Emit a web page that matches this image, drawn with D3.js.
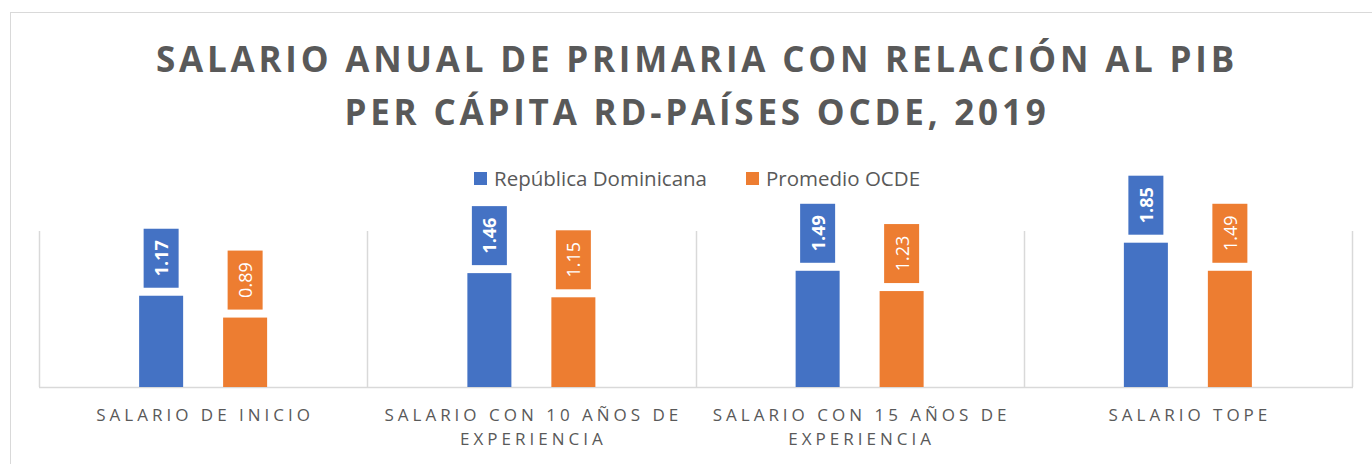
<!DOCTYPE html>
<html>
<head>
<meta charset="utf-8">
<script src="https://cdn.jsdelivr.net/npm/d3@7.9.0/dist/d3.min.js"></script>
<style>
  body { margin: 0; background: #fff; }
  svg { display: block; font-family: 'Open Sans', sans-serif; }
</style>
</head>
<body>
<svg id="chart" width="1372" height="464"></svg>
<script>
// data
const categories = [
  ['SALARIO DE INICIO'],
  ['SALARIO CON 10 AÑOS DE', 'EXPERIENCIA'],
  ['SALARIO CON 15 AÑOS DE', 'EXPERIENCIA'],
  ['SALARIO TOPE']
];
const series = ['República Dominicana', 'Promedio OCDE'];
const rdValues = [1.17, 1.46, 1.49, 1.85];
const ocdeValues = [0.89, 1.15, 1.23, 1.49];
const titleLines = ['SALARIO ANUAL DE PRIMARIA CON RELACIÓN AL PIB', 'PER CÁPITA RD-PAÍSES OCDE, 2019'];

const colors = ['#4472C4', '#ED7D31'];
const grey = '#595959';

const svg = d3.select('#chart');

// outer frame
svg.append('rect')
  .attr('x', 10.5).attr('y', 12.5)
  .attr('width', 1420).attr('height', 500)
  .attr('fill', 'none').attr('stroke', '#d9d9d9');

// title
const title = svg.append('text')
  .attr('text-anchor', 'middle')
  .attr('fill', grey)
  .attr('font-size', 35)
  .attr('font-weight', 700)
  .attr('letter-spacing', 3.8);
titleLines.forEach((t, i) => {
  title.append('tspan').attr('x', 697).attr('y', 72 + i * 53).text(t);
});

// legend
const legend = svg.append('g');
const legendX = [474, 746];
series.forEach((s, i) => {
  legend.append('rect')
    .attr('x', legendX[i]).attr('y', 172)
    .attr('width', 13).attr('height', 13)
    .attr('fill', colors[i]);
  legend.append('text')
    .attr('x', legendX[i] + 20).attr('y', 186)
    .attr('font-size', 20.5).attr('fill', grey)
    .text(s);
});

// scales
const x0 = d3.scaleBand()
  .domain(d3.range(categories.length))
  .range([39, 1352]);
const bw = x0.bandwidth();
const x1 = d3.scaleBand()
  .domain(series)
  .range([bw / 2 - 64, bw / 2 + 64])
  .paddingInner(0.476);
const y = d3.scaleLinear().domain([0, 2]).range([387, 231]);

// gridlines at category boundaries
const bounds = d3.range(categories.length + 1).map(i => i === categories.length ? x0.range()[1] : x0(i));
svg.append('g').selectAll('line')
  .data(bounds)
  .join('line')
  .attr('x1', d => Math.round(d) + 0.5).attr('x2', d => Math.round(d) + 0.5)
  .attr('y1', y(2)).attr('y2', y(0))
  .attr('stroke', '#d9d9d9').attr('stroke-width', 1.5);

// axis line
svg.append('line')
  .attr('x1', 39).attr('x2', 1353)
  .attr('y1', y(0) + 0.5).attr('y2', y(0) + 0.5)
  .attr('stroke', '#d9d9d9').attr('stroke-width', 1.5);

// bars + labels
const values = [rdValues, ocdeValues];
series.forEach((s, si) => {
  const g = svg.append('g');
  values[si].forEach((v, ci) => {
    const bx = x0(ci) + x1(s);
    g.append('rect')
      .attr('x', bx).attr('y', y(v))
      .attr('width', x1.bandwidth()).attr('height', y(0) - y(v))
      .attr('fill', colors[si]);
    const cx = bx + x1.bandwidth() / 2;
    const boxH = 59, boxW = 35;
    const boxBottom = y(v) - 8;
    g.append('rect')
      .attr('x', cx - boxW / 2).attr('y', boxBottom - boxH)
      .attr('width', boxW).attr('height', boxH)
      .attr('fill', colors[si]);
    g.append('text')
      .attr('transform', `translate(${cx},${boxBottom - boxH / 2}) rotate(-90)`)
      .attr('text-anchor', 'middle')
      .attr('dominant-baseline', 'central')
      .attr('fill', '#fff')
      .attr('font-size', 18)
      .attr('font-weight', si === 0 ? 700 : 400)
      .text(v.toFixed(2));
  });
});

// category labels
const catG = svg.append('g');
categories.forEach((lines, ci) => {
  const t = catG.append('text')
    .attr('text-anchor', 'middle')
    .attr('fill', grey)
    .attr('font-size', 17)
    .attr('letter-spacing', 4);
  lines.forEach((l, li) => {
    t.append('tspan')
      .attr('x', x0(ci) + bw / 2 + 2)
      .attr('y', 421 + li * 24)
      .text(l);
  });
});
</script>
</body>
</html>
